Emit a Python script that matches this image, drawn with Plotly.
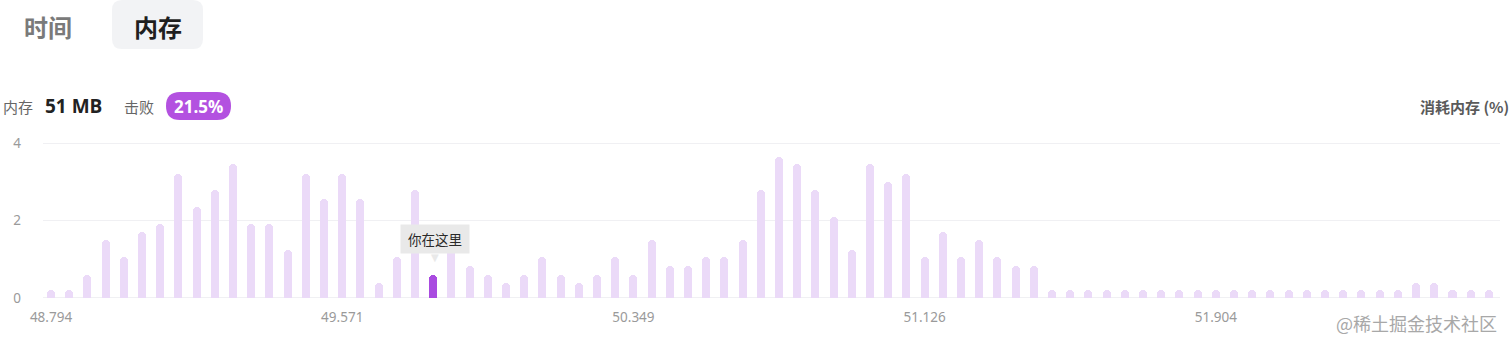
import plotly.graph_objects as go

# ---------------- data ----------------
bins = list(range(80))
values = [
    0.2, 0.2, 0.6, 1.5, 1.05, 1.7, 1.9, 3.2, 2.35, 2.8,
    3.45, 1.9, 1.9, 1.25, 3.2, 2.55, 3.2, 2.55, 0.38, 1.05,
    2.8, 0.6, 1.3, 0.83, 0.6, 0.38, 0.6, 1.05, 0.6, 0.38,
    0.6, 1.05, 0.6, 1.5, 0.83, 0.83, 1.05, 1.05, 1.5, 2.8,
    3.65, 3.45, 2.8, 2.1, 1.25, 3.45, 3.0, 3.2, 1.05, 1.7,
    1.05, 1.5, 1.05, 0.83, 0.83, 0.2, 0.2, 0.2, 0.2, 0.2,
    0.2, 0.2, 0.2, 0.2, 0.2, 0.2, 0.2, 0.2, 0.2, 0.2,
    0.2, 0.2, 0.2, 0.2, 0.2, 0.38, 0.38, 0.2, 0.2, 0.2,
]
highlight_index = 21
x_tick_positions = [0, 16, 32, 48, 64]
x_tick_labels = ["48.794", "49.571", "50.349", "51.126", "51.904"]
y_tick_values = [0, 2, 4]

tab_labels = ["时间", "内存"]
memory_label = "内存"
memory_value = "51 MB"
beat_label = "击败"
beat_value = "21.5%"
axis_title = "消耗内存 (%)"
tooltip_text = "你在这里"
watermark = "@稀土掘金技术社区"

# ---------------- styles ----------------
BAR = "#ebdaf8"
HL = "#a94be0"
PILL = "#b351e0"
CJK = "Noto Sans CJK SC"

W, H = 1512, 347
L, R, T, B = 43, 1500, 142, 299


def px(x):
    return (x - L) / (R - L)


def py(y):
    return (B - y) / (B - T)


def rounded_rect(x0, y0, x1, y1, r):
    pts = [
        f"M {px(x0 + r)} {py(y0)}",
        f"L {px(x1 - r)} {py(y0)}",
        f"Q {px(x1)} {py(y0)} {px(x1)} {py(y0 + r)}",
        f"L {px(x1)} {py(y1 - r)}",
        f"Q {px(x1)} {py(y1)} {px(x1 - r)} {py(y1)}",
        f"L {px(x0 + r)} {py(y1)}",
        f"Q {px(x0)} {py(y1)} {px(x0)} {py(y1 - r)}",
        f"L {px(x0)} {py(y0 + r)}",
        f"Q {px(x0)} {py(y0)} {px(x0 + r)} {py(y0)}",
        "Z",
    ]
    return " ".join(pts)


colors = [HL if i == highlight_index else BAR for i in bins]

fig = go.Figure()
fig.add_trace(go.Bar(
    x=bins, y=values, width=0.44,
    marker=dict(color=colors, cornerradius=4, line=dict(width=0)),
    hoverinfo="skip",
))

shapes = [
    dict(type="path", xref="paper", yref="paper", layer="below",
         path=rounded_rect(112, 0, 203, 49, 10),
         fillcolor="#f2f3f5", line=dict(width=0)),
    dict(type="path", xref="paper", yref="paper",
         path=rounded_rect(166, 92, 231, 120, 14),
         fillcolor=PILL, line=dict(width=0)),
]

annotations = [
    dict(text="<b>" + tab_labels[0] + "</b>", x=px(22), y=py(27), xref="paper", yref="paper",
         xanchor="left", yanchor="middle", showarrow=False,
         font=dict(family=CJK, size=24, color="#7a7a7a")),
    dict(text="<b>" + tab_labels[1] + "</b>", x=px(157.5), y=py(27), xref="paper", yref="paper",
         xanchor="center", yanchor="middle", showarrow=False,
         font=dict(family=CJK, size=24, color="#1f1f1f")),
    dict(text=memory_label, x=px(1), y=py(106), xref="paper", yref="paper",
         xanchor="left", yanchor="middle", showarrow=False,
         font=dict(family=CJK, size=15, color="#666666")),
    dict(text="<b>" + memory_value + "</b>", x=px(43), y=py(106), xref="paper", yref="paper",
         xanchor="left", yanchor="middle", showarrow=False,
         font=dict(family="Open Sans", size=19, color="#222222")),
    dict(text=beat_label, x=px(122), y=py(106), xref="paper", yref="paper",
         xanchor="left", yanchor="middle", showarrow=False,
         font=dict(family=CJK, size=15, color="#666666")),
    dict(text="<b>" + beat_value + "</b>", x=px(198.5), y=py(106), xref="paper", yref="paper",
         xanchor="center", yanchor="middle", showarrow=False,
         font=dict(family="Open Sans", size=17, color="#ffffff")),
    dict(text="<b>" + axis_title + "</b>", x=px(1511), y=py(106), xref="paper", yref="paper",
         xanchor="right", yanchor="middle", showarrow=False,
         font=dict(family=CJK, size=15, color="#5a5a5a")),
    dict(text=watermark, x=px(1499), y=py(323), xref="paper", yref="paper",
         xanchor="right", yanchor="middle", showarrow=False,
         font=dict(family=CJK, size=18, color="#a8a8a8")),
    # tooltip
    dict(text=tooltip_text, x=highlight_index, y=values[highlight_index],
         xref="x", yref="y", xanchor="center", yanchor="bottom",
         yshift=21, xshift=2, showarrow=False, bgcolor="#e9e9e9",
         width=62, height=22, borderpad=3,
         font=dict(family=CJK, size=13.5, color="#2a2a2a")),
    dict(text="▼", x=highlight_index, y=values[highlight_index],
         xref="x", yref="y", xanchor="center", yanchor="bottom",
         yshift=10, xshift=2, showarrow=False,
         font=dict(family="DejaVu Sans", size=10, color="#e9e9e9")),
]

fig.update_layout(
    width=W, height=H,
    margin=dict(l=L, r=W - R, t=T, b=H - B, pad=0),
    paper_bgcolor="white", plot_bgcolor="white",
    showlegend=False, bargap=0,
    shapes=shapes, annotations=annotations,
    xaxis=dict(range=[-0.44, 79.61], tickvals=x_tick_positions, ticktext=x_tick_labels,
               showgrid=False, zeroline=False, showline=False, ticks="",
               ticklabelstandoff=8,
               tickfont=dict(family="Noto Sans", size=13.5, color="#9a9a9a"),
               fixedrange=True),
    yaxis=dict(range=[-0.03, 4.03], tickvals=y_tick_values, showgrid=True,
               gridcolor="#f0f0f3", gridwidth=1, zeroline=False, showline=False,
               ticks="", ticklabelstandoff=21,
               tickfont=dict(family="Noto Sans", size=13.5, color="#9a9a9a"),
               fixedrange=True),
)

fig.write_html("out.html", config={"displayModeBar": False})
